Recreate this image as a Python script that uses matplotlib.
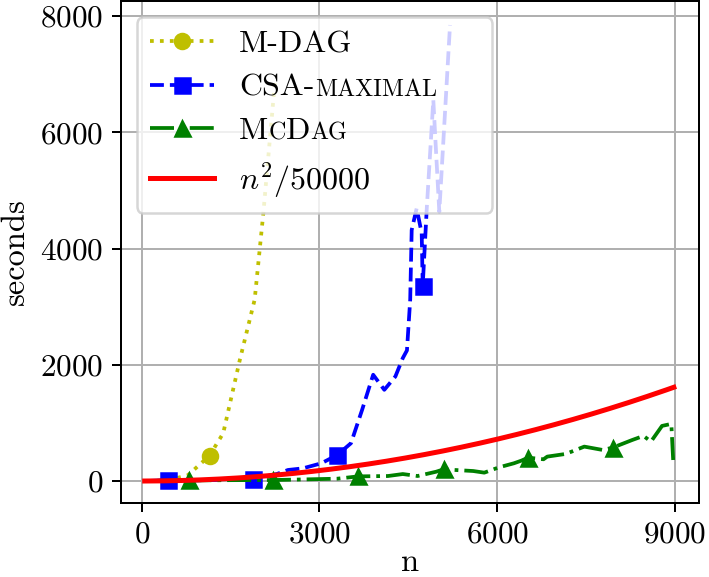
import numpy as np
import matplotlib
matplotlib.use("Agg")
import matplotlib.pyplot as plt
from matplotlib.offsetbox import TextArea, HPacker, DrawingArea

plt.rcParams['font.family'] = 'serif'
plt.rcParams['font.serif'] = ['cmr10']
plt.rcParams['mathtext.fontset'] = 'cm'
plt.rcParams['axes.formatter.use_mathtext'] = True
plt.rcParams['axes.unicode_minus'] = False

# M-DAG timings (n, seconds)
n_mdag = [100, 450, 780, 1144, 1375, 1656, 1906, 2052, 2221, 2250]
s_mdag = [0, 15, 100, 437, 822, 2086, 3121, 4606, 6555, 6900]
mk_mdag = [3]

# CSA-maximal timings
n_csa = [100, 449, 800, 1219, 1875, 2281, 2469, 2719, 3031, 3300, 3531, 3719,
         3906, 4094, 4281, 4406, 4476, 4531, 4556, 4640, 4725, 4742, 4809,
         4921, 4960, 5022, 5203]
s_csa = [0, 17, 10, 17, 34, 121, 190, 218, 305, 448, 650, 1224,
         1828, 1569, 1799, 2115, 2247, 3121, 4318, 4691, 4261, 3360, 4662,
         6555, 5800, 4633, 7845]
mk_csa = [1, 4, 9, 21]

# McDag timings
n_mc = [100, 804, 1500, 2219, 2800, 3300, 3656, 4156, 4406, 4656, 4969, 5094,
        5594, 5781, 6031, 6281, 6406, 6519, 6781, 6844, 7156, 7469, 7781,
        7950, 8281, 8469, 8594, 8781, 8938, 8969]
s_mc = [0, 10, 15, 17, 29, 40, 80, 86, 120, 86, 160, 201,
        172, 144, 236, 305, 350, 402, 374, 420, 466, 592, 534,
        575, 707, 776, 678, 948, 983, 362]
mk_mc = [1, 3, 6, 11, 17, 23]

# reference curve n^2/50000
n_ref = np.linspace(50, 8980, 200)

fig = plt.figure(figsize=(709/180, 577/180), dpi=180)
ax = fig.add_axes([120.7/709, (577-502.7)/577, (699.3-120.7)/709, (502.7-1.3)/577])

ax.plot(n_mdag, s_mdag, 'y:', marker='o', markevery=mk_mdag, label='M-DAG')
ax.plot(n_csa, s_csa, 'b--', marker='s', markevery=mk_csa, label='CSA-maximal')
ax.plot(n_mc, s_mc, 'g-.', marker='^', markevery=mk_mc, label='McDag')
ax.plot(n_ref, n_ref**2/50000, 'r-', lw=2, label=r'$n^2/50000$')

ax.set_xlim(-355, 9410)
ax.set_ylim(-373, 8253)
ax.set_xticks([0, 3000, 6000, 9000])
ax.set_yticks([0, 2000, 4000, 6000, 8000])
ax.tick_params(labelsize=12.5)
ax.set_xlabel('n', fontsize=13, labelpad=0)
ax.set_ylabel('seconds', fontsize=13, labelpad=4)
ax.grid(True)

leg = ax.legend(loc='upper left', fontsize=12.8, labelspacing=0.47)

# small caps labels, pieced together from two sizes
def caps_box(parts, big=12.8, small=9.6, extra=0):
    kids = [TextArea(t, textprops=dict(fontsize=big if b else small, family='serif'))
            for t, b in parts]
    if extra:
        kids.append(DrawingArea(extra, 1))
    box = HPacker(children=kids, align='baseline', pad=0, sep=0)
    box.set_figure(fig)
    return box

rows = leg._legend_handle_box.get_children()[0].get_children()
rows[1]._children[1] = caps_box([('CSA-', True), ('MAXIMAL', False)], extra=17)
rows[2]._children[1] = caps_box([('M', True), ('C', False), ('D', True), ('AG', False)])

fig.savefig('out.png', dpi=180)
